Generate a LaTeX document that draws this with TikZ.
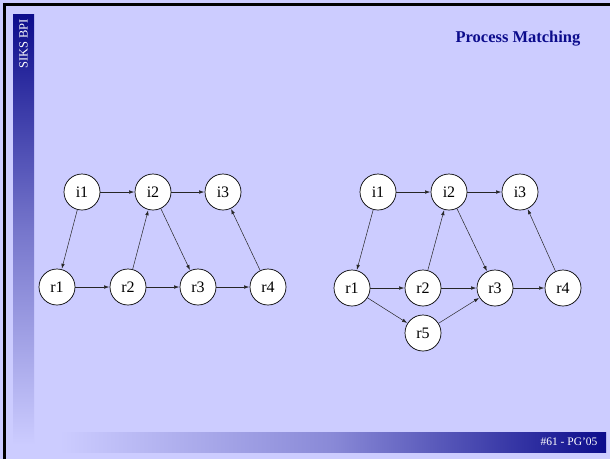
\documentclass[tikz,border=0pt]{standalone}
\usepackage{fontspec}
\setmainfont{Liberation Serif}
\usetikzlibrary{arrows.meta}
\definecolor{slidebg}{RGB}{204,204,255}
\definecolor{slidenavy}{RGB}{12,12,140}
\begin{document}
\begin{tikzpicture}[x=1pt, y=-1pt,
		place/.style={circle, draw, fill=white, line width=0.7pt, minimum size=36pt, inner sep=0pt, font=\fontsize{16}{18}\selectfont},
		arc/.style={-{Latex[length=5pt, width=3.5pt]}, line width=0.5pt, black!85, shorten >=0.5pt}]
		\useasboundingbox (0,0) rectangle (610,459);
		\fill[slidebg] (0,0) rectangle (610,459);
		\shade[top color=slidenavy, bottom color=slidebg, middle color=slidenavy!45!slidebg] (13,14) rectangle (34,445);
		\shade[left color=slidebg, right color=slidenavy, middle color=slidenavy!35!slidebg] (60,432) rectangle (606,452);
		\draw[line width=3pt] (4.5,459) -- (4.5,4.5) -- (610,4.5);
		\node[rotate=90, text=white, font=\fontsize{12.5}{14}\selectfont] at (23.5,44) (tag) {SIKS BPI};
		\node[text=slidenavy, font=\fontsize{16.5}{19}\selectfont\bfseries] at (518,39) (title) {Process Matching};
		\node[anchor=east, text=white, font=\fontsize{11.5}{13}\selectfont] at (601,442) (page) {\#61 - PG’05};

		\node[place] at (82,192) (i1a) {i1};
		\node[place] at (153,192) (i2a) {i2};
		\node[place] at (223,192) (i3a) {i3};
		\node[place] at (57,287) (r1a) {r1};
		\node[place] at (128,287) (r2a) {r2};
		\node[place] at (198,287) (r3a) {r3};
		\node[place] at (268,287) (r4a) {r4};
		\draw[arc] (i1a) -- (i2a);
		\draw[arc] (i2a) -- (i3a);
		\draw[arc] (i1a) -- (r1a);
		\draw[arc] (r2a) -- (i2a);
		\draw[arc] (i2a) -- (r3a);
		\draw[arc] (r4a) -- (i3a);
		\draw[arc] (r1a) -- (r2a);
		\draw[arc] (r2a) -- (r3a);
		\draw[arc] (r3a) -- (r4a);

		\node[place] at (378,192) (i1b) {i1};
		\node[place] at (449,192) (i2b) {i2};
		\node[place] at (520,192) (i3b) {i3};
		\node[place] at (352,288) (r1b) {r1};
		\node[place] at (423,288) (r2b) {r2};
		\node[place] at (495,288) (r3b) {r3};
		\node[place] at (563,288) (r4b) {r4};
		\node[place] at (423,333) (r5b) {r5};
		\draw[arc] (i1b) -- (i2b);
		\draw[arc] (i2b) -- (i3b);
		\draw[arc] (i1b) -- (r1b);
		\draw[arc] (r2b) -- (i2b);
		\draw[arc] (i2b) -- (r3b);
		\draw[arc] (r4b) -- (i3b);
		\draw[arc] (r1b) -- (r2b);
		\draw[arc] (r2b) -- (r3b);
		\draw[arc] (r3b) -- (r4b);
		\draw[arc] (r1b) -- (r5b);
		\draw[arc] (r5b) -- (r3b);
	\end{tikzpicture}
\end{document}
